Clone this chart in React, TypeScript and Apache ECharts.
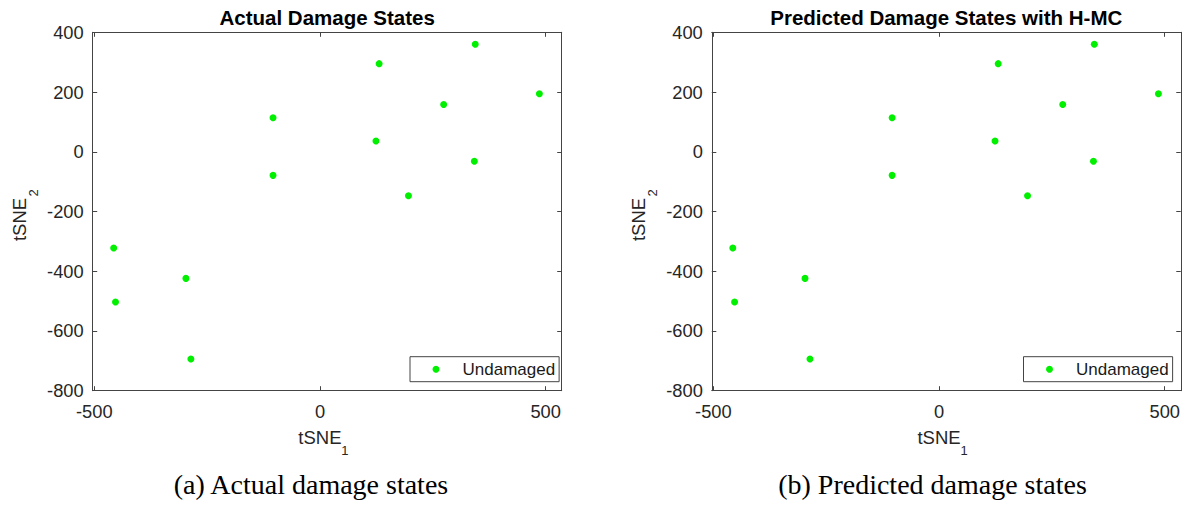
import React, { useEffect, useRef } from "react";
import * as echarts from "echarts";

// ---- data ----
const tsne1: number[] = [-104, 131, 344, 486, 274, 124, 342, -104, 196, -457, -297, -453, -286];
const tsne2: number[] = [114, 295, 360, 194, 158, 36, -32, -79, -147, -322, -424, -503, -694];
const seriesName = "Undamaged";
const xTicks: number[] = [-500, 0, 500];
const yMin = -800;
const yMax = 400;
const yStep = 200;
const xMin = -503.5;
const xMax = 535.5;
const titles: string[] = ["Actual Damage States", "Predicted Damage States with H-MC"];
const captions: string[] = ["(a) Actual damage states", "(b) Predicted damage states"];

const SANS = "'Liberation Sans', Arial, Helvetica, sans-serif";
const SERIF = "'Liberation Serif', 'Times New Roman', serif";
const AX = "#444444";
const TXT = "#262626";
const GREEN = "#00f000";

const GRID_TOP = 32.3;
const GRID_H = 358.4;
const GRID_W = 469;
const GRID_LEFTS = [92.7, 711.8];
const LEGEND_LEFTS = [410, 1023.5];
const CAPTION_X = [311, 932.5];

function App() {
  const ref = useRef<HTMLDivElement | null>(null);
  useEffect(() => {
    if (!ref.current) return;
    const chart = echarts.init(ref.current, undefined, { renderer: "svg" });
    const pts = tsne1.map((x, i) => [x, tsne2[i]]);

    const grids = GRID_LEFTS.map((l) => ({ left: l, top: GRID_TOP, width: GRID_W, height: GRID_H, containLabel: false }));

    const xAxes: any[] = [];
    const yAxes: any[] = [];
    GRID_LEFTS.forEach((_, g) => {
      ["bottom", "top"].forEach((pos) => {
        xAxes.push({
          type: "value",
          gridIndex: g,
          position: pos,
          min: xMin,
          max: xMax,
          axisLine: { show: true, onZero: false, lineStyle: { color: AX, width: 1 } },
          axisTick: { show: true, inside: true, length: 4.5, customValues: xTicks, lineStyle: { color: AX } },
          axisLabel: {
            show: pos === "bottom",
            customValues: xTicks,
            margin: 12,
            fontSize: 18.3,
            fontFamily: SANS,
            color: TXT,
          },
          splitLine: { show: false },
        });
      });
      ["left", "right"].forEach((pos) => {
        yAxes.push({
          type: "value",
          gridIndex: g,
          position: pos,
          min: yMin,
          max: yMax,
          interval: yStep,
          axisLine: { show: true, onZero: false, lineStyle: { color: AX, width: 1 } },
          axisTick: { show: true, inside: true, length: 4.5, lineStyle: { color: AX } },
          axisLabel: {
            show: pos === "left",
            margin: 9,
            fontSize: 18.3,
            fontFamily: SANS,
            color: TXT,
          },
          splitLine: { show: false },
        });
      });
    });

    const series = GRID_LEFTS.map((_, g) => ({
      type: "scatter",
      name: seriesName,
      xAxisIndex: g * 2,
      yAxisIndex: g * 2,
      data: pts,
      symbol: "circle",
      symbolSize: 7,
      itemStyle: { color: GREEN, opacity: 1 },
      emphasis: { disabled: true },
    }));

    const legends = LEGEND_LEFTS.map((l) => ({
      data: [{ name: seriesName, icon: "circle" }],
      left: l,
      top: 356.7,
      orient: "horizontal",
      itemWidth: 7,
      itemHeight: 7,
      padding: [3, 4, 3, 22.5],
      borderColor: AX,
      borderWidth: 1,
      backgroundColor: "#ffffff",
      selectedMode: false,
      textStyle: { fontSize: 17, fontFamily: SANS, color: "#1a1a1a", lineHeight: 19, padding: [0, 0, 0, 18] },
    }));

    const graphics: any[] = [];
    GRID_LEFTS.forEach((gl, g) => {
      const cx = gl + GRID_W / 2;
      graphics.push({
        type: "text",
        x: cx,
        y: 17.5,
        style: { text: titles[g], fontSize: 20.5, fontWeight: "bold", fontFamily: SANS, fill: "#000", align: "center", verticalAlign: "middle" },
      });
      // x label tSNE_1
      const xl = gl + 205.6;
      graphics.push({
        type: "text",
        x: xl,
        y: 437.3,
        style: { text: "tSNE", fontSize: 18.5, fontFamily: SANS, fill: TXT, align: "left", verticalAlign: "middle" },
      });
      graphics.push({
        type: "text",
        x: xl + 43,
        y: 450.5,
        style: { text: "1", fontSize: 13, fontFamily: SANS, fill: TXT, align: "left", verticalAlign: "middle" },
      });
      // y label tSNE_2 (rotated)
      const yl = gl - 73.5;
      graphics.push({
        type: "text",
        x: yl,
        y: 219.5,
        rotation: Math.PI / 2,
        style: { text: "tSNE", fontSize: 18.5, fontFamily: SANS, fill: TXT, align: "center", verticalAlign: "middle" },
      });
      graphics.push({
        type: "text",
        x: yl + 14,
        y: 193,
        rotation: Math.PI / 2,
        style: { text: "2", fontSize: 13, fontFamily: SANS, fill: TXT, align: "center", verticalAlign: "middle" },
      });
      graphics.push({
        type: "text",
        x: CAPTION_X[g],
        y: 484,
        style: { text: captions[g], fontSize: 28, fontFamily: SERIF, fill: "#000", align: "center", verticalAlign: "middle" },
      });
    });

    chart.setOption({
      animation: false,
      backgroundColor: "#ffffff",
      grid: grids,
      xAxis: xAxes,
      yAxis: yAxes,
      series,
      legend: legends,
      graphic: graphics,
    });
    return () => chart.dispose();
  }, []);
  return <div ref={ref} style={{ position: "absolute", left: 0, top: 0, width: 1183, height: 508 }} />;
}

export default App;
